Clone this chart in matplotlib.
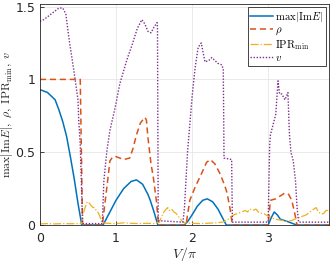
import matplotlib
matplotlib.use('Agg')
import matplotlib.pyplot as plt

plt.rcParams['font.family'] = ['DejaVu Sans']
plt.rcParams['mathtext.fontset'] = 'cm'

# max|Im E|
x_im = [0, 0.1, 0.2, 0.25, 0.3, 0.35, 0.4, 0.45, 0.5, 0.55, 0.83, 0.9, 1.0, 1.1, 1.2, 1.27, 1.35, 1.42, 1.45, 1.5, 1.55,
        1.9, 1.95, 2.0, 2.07, 2.14, 2.2, 2.27, 2.34, 2.4, 2.45, 3.0, 3.04, 3.08, 3.12, 3.16, 3.25, 3.35, 3.4, 3.8]
y_im = [0.93, 0.91, 0.86, 0.79, 0.71, 0.61, 0.47, 0.32, 0.15, 0.0, 0.0, 0.07, 0.17, 0.25, 0.30, 0.31, 0.28, 0.21, 0.17, 0.09, 0.0,
        0.0, 0.03, 0.07, 0.13, 0.17, 0.18, 0.16, 0.11, 0.05, 0.0, 0.0, 0.05, 0.09, 0.07, 0.04, 0.025, 0.005, 0.0, 0.0]

# rho
x_rho = [0, 0.53, 0.56, 0.82, 0.88, 0.92, 0.96, 1.0, 1.05, 1.1, 1.18, 1.22, 1.27, 1.32, 1.38, 1.40, 1.42, 1.46, 1.49, 1.53, 1.56,
         1.92, 1.97, 2.04, 2.13, 2.19, 2.24, 2.3, 2.37, 2.43, 2.46, 2.5, 2.53,
         3.0, 3.03, 3.1, 3.16, 3.22, 3.27, 3.31, 3.35, 3.38, 3.8]
y_rho = [1.0, 1.0, 0.0, 0.0, 0.26, 0.44, 0.47, 0.47, 0.46, 0.45, 0.46, 0.52, 0.62, 0.70, 0.74, 0.72, 0.60, 0.42, 0.33, 0.17, 0.0,
         0.0, 0.17, 0.26, 0.36, 0.43, 0.45, 0.42, 0.35, 0.27, 0.22, 0.11, 0.0,
         0.0, 0.17, 0.18, 0.20, 0.22, 0.21, 0.17, 0.08, 0.0, 0.0]

# IPR_min
x_ipr = [0, 0.1, 0.2, 0.3, 0.4, 0.5, 0.55, 0.57, 0.6, 0.62, 0.65, 0.68, 0.7, 0.72, 0.74, 0.76, 0.78, 0.8, 0.82,
         0.9, 1.0, 1.1, 1.2, 1.3, 1.4, 1.5, 1.57, 1.6, 1.63, 1.66, 1.68, 1.7, 1.73, 1.76, 1.79, 1.82, 1.85, 1.88,
         1.9, 2.0, 2.1, 2.2, 2.3, 2.4, 2.45, 2.5, 2.55, 2.6, 2.65, 2.7, 2.73, 2.76, 2.8, 2.84, 2.87, 2.9, 2.94, 2.97, 3.0,
         3.05, 3.1, 3.15, 3.2, 3.25, 3.3, 3.35, 3.4, 3.45, 3.5, 3.55, 3.6, 3.63, 3.66, 3.7, 3.73, 3.76, 3.8]
y_ipr = [0.008, 0.01, 0.008, 0.01, 0.009, 0.01, 0.01, 0.08, 0.13, 0.16, 0.15, 0.13, 0.12, 0.12, 0.10, 0.09, 0.07, 0.04, 0.015,
         0.012, 0.01, 0.015, 0.012, 0.01, 0.012, 0.01, 0.02, 0.06, 0.09, 0.11, 0.12, 0.10, 0.11, 0.09, 0.08, 0.06, 0.04, 0.02,
         0.015, 0.012, 0.01, 0.012, 0.015, 0.02, 0.03, 0.05, 0.07, 0.08, 0.09, 0.10, 0.09, 0.11, 0.10, 0.11, 0.09, 0.08, 0.08, 0.07, 0.06,
         0.05, 0.04, 0.035, 0.03, 0.025, 0.03, 0.04, 0.05, 0.06, 0.07, 0.09, 0.11, 0.12, 0.09, 0.075, 0.08, 0.10, 0.10]

# v
x_v = [0, 0.05, 0.1, 0.15, 0.2, 0.25, 0.3, 0.34, 0.39, 0.42, 0.46, 0.5, 0.51, 0.53, 0.55, 0.56, 0.82,
       0.84, 0.88, 0.92, 0.99, 1.05, 1.14, 1.22, 1.28, 1.32, 1.34, 1.38, 1.42, 1.46, 1.5, 1.54, 1.545, 1.555, 1.88,
       1.9, 1.94, 2.0, 2.04, 2.08, 2.12, 2.17, 2.22, 2.26, 2.3, 2.34, 2.39, 2.41, 2.42, 2.52, 2.53, 3.0,
       3.02, 3.03, 3.06, 3.08, 3.1, 3.13, 3.15, 3.18, 3.22, 3.26, 3.28, 3.3, 3.33, 3.36, 3.38, 3.4, 3.8]
y_v = [1.40, 1.41, 1.43, 1.45, 1.47, 1.49, 1.49, 1.45, 1.25, 1.15, 1.01, 0.86, 0.72, 0.55, 0.2, 0.01, 0.01,
       0.3, 0.51, 0.65, 0.81, 0.97, 1.13, 1.25, 1.35, 1.39, 1.41, 1.38, 1.33, 1.32, 1.36, 1.39, 1.36, 0.03, 0.02,
       0.12, 0.5, 0.88, 1.08, 1.22, 1.25, 1.12, 1.13, 1.15, 1.13, 1.11, 1.10, 1.07, 0.46, 0.45, 0.02, 0.02,
       0.55, 0.62, 0.68, 0.72, 0.76, 0.99, 0.9, 0.9, 0.86, 0.91, 0.62, 0.5, 0.44, 0.3, 0.12, 0.02, 0.02]

fig = plt.figure(figsize=(3.3, 2.62), dpi=100)
ax = fig.add_axes([0.121, 0.141, 0.876, 0.845])

ax.plot(x_im, y_im, color='#0072BD', lw=1.1, label=r'$\max|\mathrm{Im}E|$')
ax.plot(x_rho, y_rho, color='#D95319', lw=1.1, ls=(0, (4, 2.5)), label=r'$\rho$')
ax.plot(x_ipr, y_ipr, color='#EDB120', lw=0.9, ls='-.', label=r'$\mathrm{IPR}_{\min}$')
ax.plot(x_v, y_v, color='#7E2F8E', lw=1.0, ls=(0, (1, 1.2)), label=r'$v$')

ax.set_xlim(0, 3.8)
ax.set_ylim(0, 1.52)
ax.set_xticks([0, 1, 2, 3])
ax.set_yticks([0, 0.5, 1, 1.5])
ax.set_yticklabels(['0', '0.5', '1', '1.5'])
ax.grid(True, color='#E6E6E6', lw=0.6)
ax.set_axisbelow(True)
ax.tick_params(direction='in', length=3, labelsize=9, colors='#262626', width=0.6)
ax.tick_params(axis='x', pad=5)
for s in ax.spines.values():
    s.set_color('#262626')
    s.set_linewidth(0.6)

ax.set_xlabel(r'$V/\pi$', fontsize=10, color='#262626', labelpad=0)
ax.set_ylabel(r'$\max|\mathrm{Im}E|,\ \rho,\ \mathrm{IPR}_{\min},\ v$', fontsize=8.5, color='#262626')
ax.yaxis.set_label_coords(-0.085, 0.5)

leg = ax.legend(loc='upper right', fontsize=7.8, handlelength=2.1, handletextpad=0.2,
                labelspacing=0.1, borderpad=0.25, borderaxespad=0.3, fancybox=False, framealpha=1)
leg.get_frame().set_edgecolor('#262626')
leg.get_frame().set_linewidth(0.6)

fig.savefig('out.png', dpi=100)
